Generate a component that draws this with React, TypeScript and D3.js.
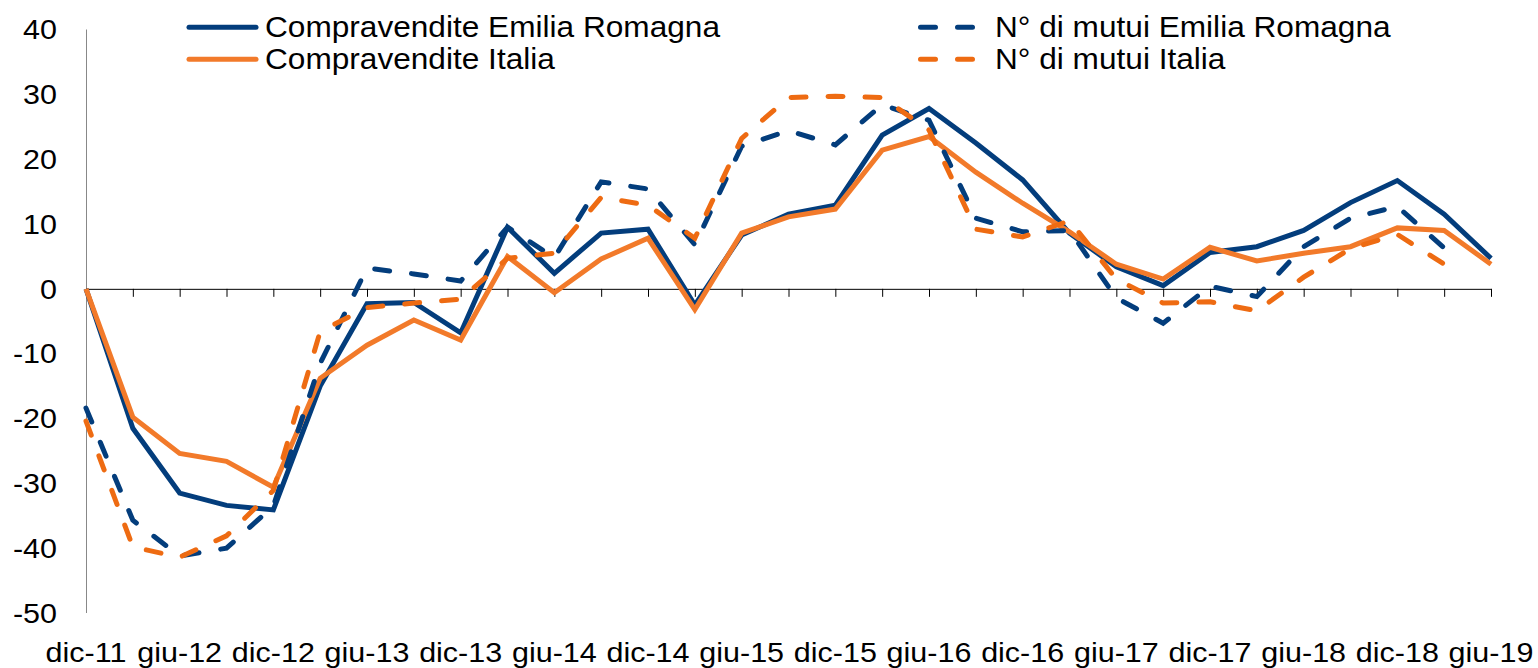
import React, { useEffect, useRef } from "react";
import * as d3 from "d3";

// quarterly periods, dic-11 .. giu-19
const quarters = [
  "dic-11", "mar-12", "giu-12", "set-12", "dic-12", "mar-13", "giu-13", "set-13",
  "dic-13", "mar-14", "giu-14", "set-14", "dic-14", "mar-15", "giu-15", "set-15",
  "dic-15", "mar-16", "giu-16", "set-16", "dic-16", "mar-17", "giu-17", "set-17",
  "dic-17", "mar-18", "giu-18", "set-18", "dic-18", "mar-19", "giu-19",
];

const compravenditeER = [
  0, -21.5, -31.5, -33.4, -34.1, -15, -2.3, -2.1, -6.8, 9.5, 2.4, 8.6, 9.2, -2.5, 8.3, 11.5,
  12.9, 23.7, 27.8, 22.5, 16.8, 8.6, 3.4, 0.5, 5.6, 6.5, 9.0, 13.3, 16.7, 11.5, 4.7,
];

const compravenditeIT = [
  0, -19.8, -25.4, -26.6, -30.6, -13.8, -8.7, -4.8, -7.9, 5.0, -0.6, 4.6, 7.8, -3.2, 8.6, 11.1,
  12.3, 21.4, 23.5, 18.0, 13.2, 8.8, 3.8, 1.5, 6.4, 4.3, 5.5, 6.5, 9.4, 9.0, 3.8,
];

const mutuiER: (number | null)[] = [
  -18.4, -35.7, -41.2, -40.0, -33.5, -11.5, 3.2, 2.3, 1.2, 9.5, 4.8, 16.5, 15.4, 6.8, 22.0, 24.4,
  22.2, 28.4, 26.0, 10.9, 8.8, 9.0, -1.4, -5.3, 0.4, -1.2, 6.5, 10.9, 12.7, 6.3, null,
];

const mutuiIT: (number | null)[] = [
  -20.4, -39.8, -41.4, -38.1, -31.1, -6.6, -2.9, -2.2, -1.6, 4.7, 5.5, 14.1, 12.9, 7.8, 23.2, 29.5,
  29.7, 29.5, 24.5, 9.2, 8.0, 10.5, 1.5, -2.2, -2.0, -3.4, 1.8, 6.2, 8.4, 3.8, null,
];

const yTicks = [40, 30, 20, 10, 0, -10, -20, -30, -40, -50];

const BLUE = "#033d7c";
const ORANGE = "#f27a2a";
const ORANGE_DASH = "#ee6b12";

export default function App() {
  const svgRef = useRef<SVGSVGElement | null>(null);

  useEffect(() => {
    const svg = d3.select(svgRef.current);
    svg.selectAll("*").remove();

    const font = "'Liberation Sans', Arial, sans-serif";
    const stretch = 1.09; // text in the source is a bit wider than plain Arial

    const x = d3.scaleLinear().domain([0, quarters.length - 1]).range([86, 1491]);
    const y = d3.scaleLinear().domain([-50, 40]).range([613, 29.5]);

    // y axis line (no tick marks)
    svg
      .append("line")
      .attr("x1", 86.5)
      .attr("x2", 86.5)
      .attr("y1", y(40))
      .attr("y2", y(-50))
      .attr("stroke", "#888")
      .attr("stroke-width", 1);

    // y labels
    svg
      .append("g")
      .selectAll("text")
      .data(yTicks)
      .join("text")
      .attr("transform", (d) => `translate(57,${y(d)}) scale(${stretch},1)`)
      .attr("text-anchor", "end")
      .attr("dy", "0.35em")
      .attr("font-family", font)
      .attr("font-size", 28)
      .attr("fill", "#000")
      .text((d) => d);

    // x axis at zero, a tick for every quarter
    const xAxis = d3
      .axisBottom(x)
      .tickValues(d3.range(quarters.length))
      .tickSize(8)
      .tickSizeOuter(0)
      .tickFormat(() => "");
    const gx = svg.append("g").attr("transform", `translate(0,${y(0)})`).call(xAxis);
    gx.select(".domain").attr("stroke", "#000");
    gx.selectAll(".tick line").attr("stroke", "#000");

    // x labels every two quarters, at the bottom
    svg
      .append("g")
      .selectAll("text")
      .data(quarters.map((q, i) => ({ q, i })).filter((d) => d.i % 2 === 0))
      .join("text")
      .attr("transform", (d) => `translate(${x(d.i)},662) scale(${stretch},1)`)
      .attr("text-anchor", "middle")
      .attr("font-family", font)
      .attr("font-size", 28)
      .attr("fill", "#000")
      .text((d) => d.q);

    const line = d3
      .line<number | null>()
      .defined((d) => d != null)
      .x((_, i) => x(i))
      .y((d) => y(d as number));

    const series = [
      { data: compravenditeER, color: BLUE, dash: null },
      { data: compravenditeIT, color: ORANGE, dash: null },
      { data: mutuiER, color: BLUE, dash: "15,22" },
      { data: mutuiIT, color: ORANGE_DASH, dash: "15,22" },
    ];

    series.forEach((s) => {
      svg
        .append("path")
        .datum(s.data)
        .attr("fill", "none")
        .attr("stroke", s.color)
        .attr("stroke-width", 5)
        .attr("stroke-linejoin", "miter")
        .attr("stroke-linecap", s.dash ? "round" : "butt")
        .attr("stroke-dasharray", s.dash)
        .attr("d", line);
    });

    // legend
    const legend = [
      { label: "Compravendite Emilia Romagna", color: BLUE, dash: null, x: 189, y: 27.3, len: 67 },
      { label: "Compravendite Italia", color: ORANGE, dash: null, x: 189, y: 59.3, len: 67 },
      { label: "N° di mutui Emilia Romagna", color: BLUE, dash: "15,22", x: 920.5, y: 27.3, len: 52 },
      { label: "N° di mutui Italia", color: ORANGE_DASH, dash: "15,22", x: 920.5, y: 59.3, len: 52 },
    ];
    const lg = svg.append("g").selectAll("g").data(legend).join("g");
    lg.append("line")
      .attr("x1", (d) => d.x)
      .attr("x2", (d) => d.x + d.len)
      .attr("y1", (d) => d.y)
      .attr("y2", (d) => d.y)
      .attr("stroke", (d) => d.color)
      .attr("stroke-width", 5)
      .attr("stroke-linecap", "round")
      .attr("stroke-dasharray", (d) => d.dash);
    lg.append("text")
      .attr("transform", (d) => `translate(${d.dash ? 995 : 265},${d.y}) scale(${stretch},1)`)
      .attr("dy", "0.35em")
      .attr("font-family", font)
      .attr("font-size", 29)
      .attr("fill", "#000")
      .text((d) => d.label);
  }, []);

  return (
    <svg
      ref={svgRef}
      width={1538}
      height={668}
      style={{ position: "absolute", left: 0, top: 0, background: "#fff" }}
    />
  );
}
